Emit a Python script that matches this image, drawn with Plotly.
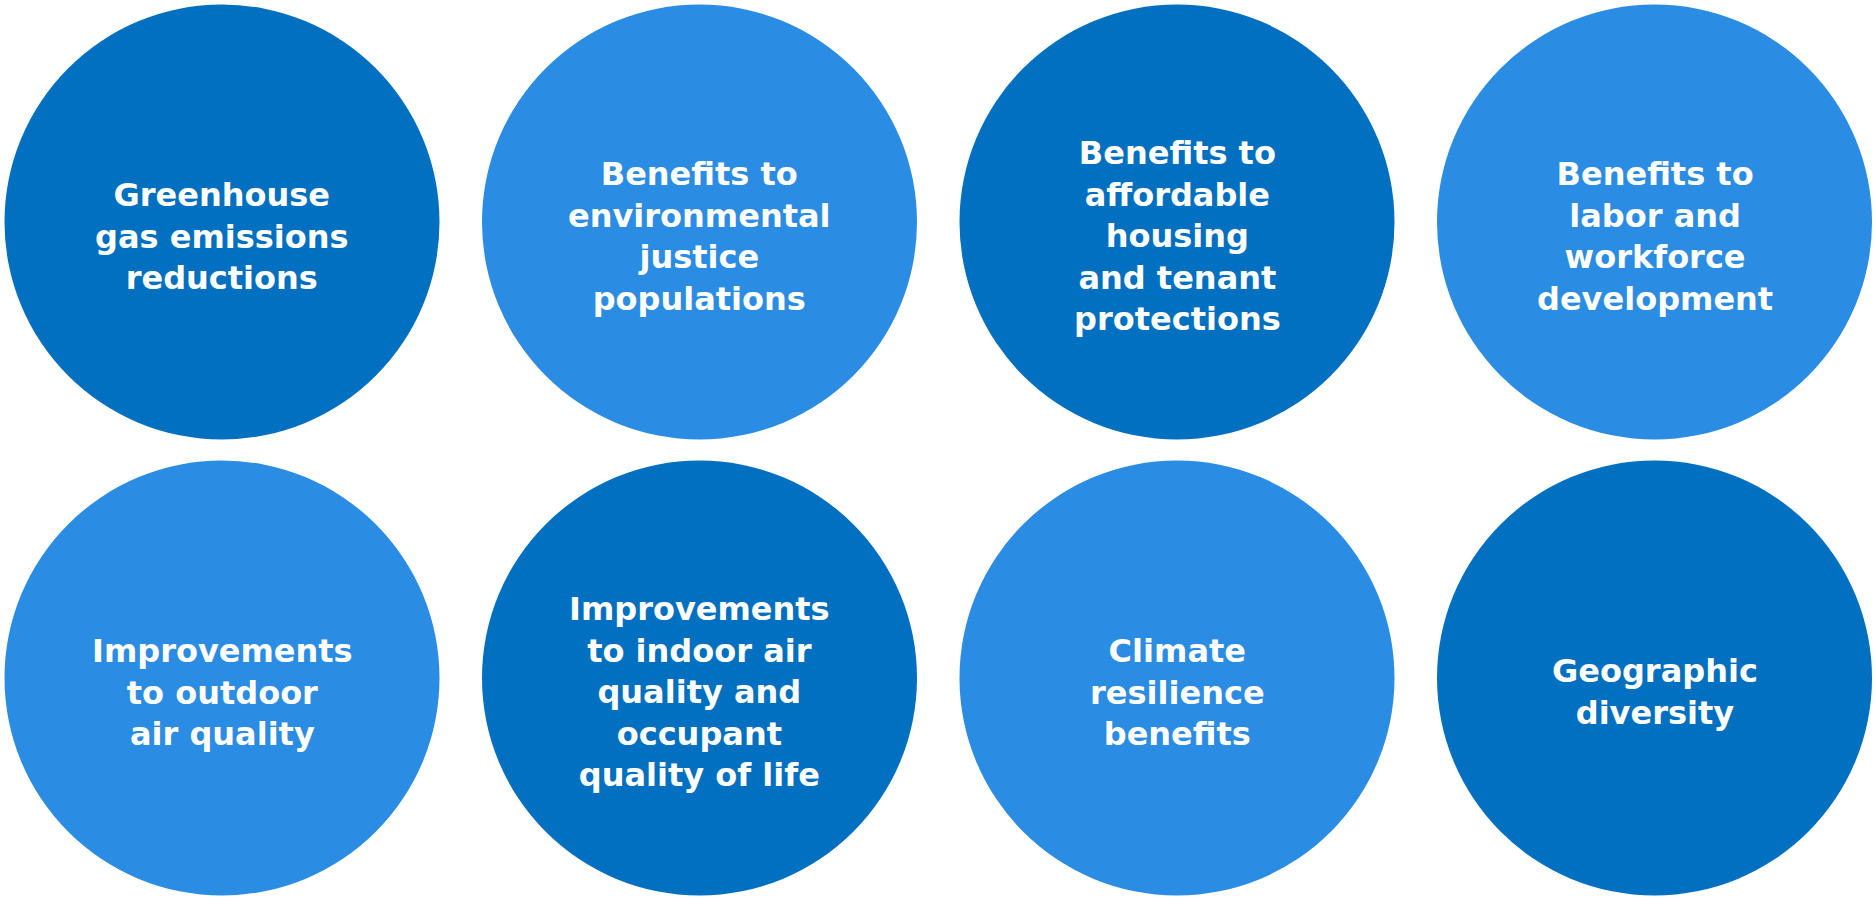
import plotly.graph_objects as go

# ---- data ----
labels = [
    "Greenhouse<br>gas emissions<br>reductions",
    "Benefits to<br>environmental<br>justice<br>populations",
    "Benefits to<br>affordable<br>housing<br>and tenant<br>protections",
    "Benefits to<br>labor and<br>workforce<br>development",
    "Improvements<br>to outdoor<br>air quality",
    "Improvements<br>to indoor air<br>quality and<br>occupant<br>quality of life",
    "Climate<br>resilience<br>benefits",
    "Geographic<br>diversity",
]
shade = ["dark", "light", "dark", "light", "light", "dark", "light", "dark"]

# ---- style / layout ----
W, H = 1873, 900
n_cols = 4
x0, dx = 222, 477.5
y0, dy = 222, 456
R = 217.5
colors = {"dark": "#0270C0", "light": "#2B8CE3"}
FONT = "DejaVu Sans"

fig = go.Figure()
shapes = []
annotations = []
for i, (lab, s) in enumerate(zip(labels, shade)):
    r, c = divmod(i, n_cols)
    cx = x0 + c * dx
    cy = y0 + r * dy
    shapes.append(dict(type="circle", xref="x", yref="y",
                       x0=cx - R, x1=cx + R, y0=cy - R, y1=cy + R,
                       fillcolor=colors[s], line=dict(width=0), layer="below"))
    annotations.append(dict(x=cx, y=cy, xref="x", yref="y", text=lab,
                            showarrow=False, xanchor="center", yanchor="middle",
                            yshift=-14,
                            font=dict(family=FONT, size=32, color="white", weight=700)))

fig.add_trace(go.Scatter(x=[None], y=[None], showlegend=False, hoverinfo="skip"))
fig.update_layout(
    width=W, height=H,
    margin=dict(l=0, r=0, t=0, b=0),
    paper_bgcolor="white", plot_bgcolor="white",
    shapes=shapes, annotations=annotations,
    xaxis=dict(range=[0, W], visible=False, fixedrange=True),
    yaxis=dict(range=[H, 0], visible=False, fixedrange=True),
    showlegend=False,
)
fig.write_html("out.html", config={"displayModeBar": False},
               post_script="document.body.style.margin='0';document.body.style.overflow='hidden';")
